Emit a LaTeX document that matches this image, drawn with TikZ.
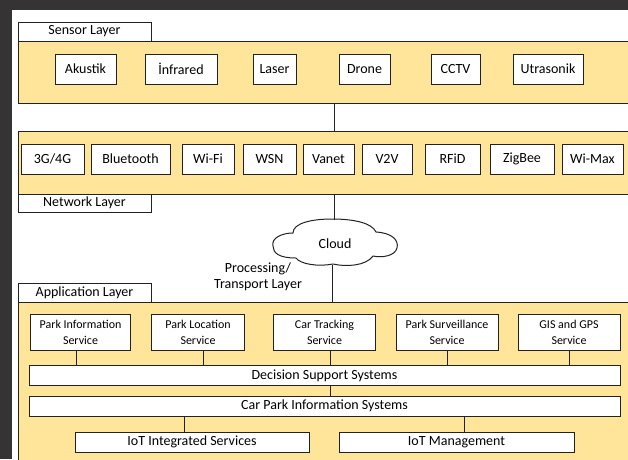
\documentclass[tikz,border=0pt]{standalone}
\usepackage{fontspec}
\setmainfont{Carlito}
\definecolor{bandfill}{HTML}{FFE599}
\definecolor{darkbg}{HTML}{353334}
\definecolor{edge}{HTML}{222222}
\tikzset{
  band/.style={draw=edge, line width=0.8pt, fill=bandfill, inner sep=0pt},
  lbl/.style={draw=edge, line width=0.8pt, fill=white, inner sep=0pt, minimum width=133pt, font=\fontsize{14}{16}\selectfont},
  sbox/.style={draw=edge, line width=1pt, fill=white, inner sep=0pt, font=\fontsize{14}{16}\selectfont},
  svc/.style={draw=edge, line width=1pt, fill=white, inner sep=0pt, align=center, minimum height=36pt, font=\fontsize{12}{16}\selectfont},
  conn/.style={draw=edge, line width=1pt},
}
\begin{document}
\begin{tikzpicture}[x=1pt, y=-1pt]
\useasboundingbox (0,0) rectangle (628,459);
\fill[darkbg] (0,0) rectangle (628,459);
\fill[white] (12,10) rectangle (628,459);
\begin{scope}
\clip (0,0) rectangle (628,459);
% Sensor layer
\node[band, minimum width=622pt, minimum height=62pt] (sband) at (329,72) {};
\node[lbl, minimum height=19pt] (slbl) at (84.5,31.5) {Sensor Layer};
\node[sbox, minimum width=61pt, minimum height=30pt] (aku) at (85.5,69) {Akustik};
\node[sbox, minimum width=72pt, minimum height=30pt] (inf) at (181,69) {İnfrared};
\node[sbox, minimum width=43pt, minimum height=30pt] (las) at (274.5,69) {Laser};
\node[sbox, minimum width=51pt, minimum height=30pt] (dro) at (364.5,69) {Drone};
\node[sbox, minimum width=49pt, minimum height=30pt] (cctv) at (455.5,69) {CCTV};
\node[sbox, minimum width=70pt, minimum height=30pt] (utr) at (548,69) {Utrasonik};
% Network layer
\node[band, minimum width=622pt, minimum height=63pt] (nband) at (329,162.5) {};
\node[lbl, minimum height=18pt] (nlbl) at (84.5,203) {Network Layer};
\node[sbox, minimum width=63pt, minimum height=30pt] (g34) at (52.5,159) {3G/4G};
\node[sbox, minimum width=79pt, minimum height=30pt] (blu) at (130.5,159) {Bluetooth};
\node[sbox, minimum width=52pt, minimum height=30pt] (wifi) at (208,159) {Wi-Fi};
\node[sbox, minimum width=53pt, minimum height=30pt] (wsn) at (269.5,159) {WSN};
\node[sbox, minimum width=51pt, minimum height=30pt] (van) at (328.5,159) {Vanet};
\node[sbox, minimum width=50pt, minimum height=30pt] (v2v) at (387,159) {V2V};
\node[sbox, minimum width=55pt, minimum height=30pt] (rfid) at (452.5,159) {RFiD};
\node[sbox, minimum width=64pt, minimum height=30pt] (zig) at (522,159) {ZigBee};
\node[sbox, minimum width=61pt, minimum height=30pt] (wmax) at (592.5,159) {Wi-Max};
% Cloud
\coordinate (cltop) at (334,220);
\coordinate (clbot) at (332,265);
\draw[edge, line width=1pt, fill=white]
  (273,246) .. controls (271,238) and (282,233) .. (293,233)
  .. controls (293,223) and (312,219) .. (332,219)
  .. controls (354,219) and (372,223) .. (376,232)
  .. controls (392,233) and (399,240) .. (397,248)
  .. controls (395,256) and (382,258) .. (373,256)
  .. controls (366,266) and (346,267) .. (333,264)
  .. controls (318,267) and (300,264) .. (296,258)
  .. controls (279,258) and (273,253) .. (273,246) -- cycle;
\node[font=\fontsize{14}{16}\selectfont] (cloud) at (335,244) {Cloud};
\node[align=center, inner sep=0pt, font=\fontsize{14}{16}\selectfont] (proc) at (258,277) {Processing/\\Transport Layer};
% Application layer
\node[band, minimum width=622pt, minimum height=168pt] (aband) at (329,386) {};
\node[lbl, minimum height=19pt] (albl) at (84.5,292.5) {Application Layer};
\node[svc, minimum width=100pt] (pis) at (80.5,332.5) {Park Information\\Service};
\node[svc, minimum width=93pt] (pls) at (198,332.5) {Park Location\\Service};
\node[svc, minimum width=102pt] (cts) at (324.5,332.5) {Car Tracking\\Service};
\node[svc, minimum width=102pt] (pss) at (447,332.5) {Park Surveillance\\Service};
\node[svc, minimum width=102pt] (gis) at (569,332.5) {GIS and GPS\\Service};
\node[sbox, minimum width=591pt, minimum height=20pt] (dss) at (324.5,375.5) {Decision Support Systems};
\node[sbox, minimum width=591pt, minimum height=20pt] (cpis) at (324.5,406) {Car Park Information Systems};
\node[sbox, minimum width=234pt, minimum height=20pt] (iots) at (192,442) {IoT Integrated Services};
\node[sbox, minimum width=235pt, minimum height=20pt] (iotm) at (456.5,442) {IoT Management};
% Connectors
\draw[conn] (sband.south -| cltop) -- (nband.north -| cltop);
\draw[conn] (nband.south -| cltop) -- (cltop);
\draw[conn] (clbot) -- (aband.north -| clbot);
\draw[conn] (pis.south -| 76,0) -- (dss.north -| 76,0);
\draw[conn] (pls.south -| 203,0) -- (dss.north -| 203,0);
\draw[conn] (cts.south -| 330,0) -- (dss.north -| 330,0);
\draw[conn] (pss.south -| 447,0) -- (dss.north -| 447,0);
\draw[conn] (gis.south -| 569,0) -- (dss.north -| 569,0);
\draw[conn] (dss.south -| 330,0) -- (cpis.north -| 330,0);
\draw[conn] (cpis.south -| 184,0) -- (iots.north -| 184,0);
\draw[conn] (cpis.south -| 464,0) -- (iotm.north -| 464,0);
\end{scope}
\end{tikzpicture}
\end{document}
